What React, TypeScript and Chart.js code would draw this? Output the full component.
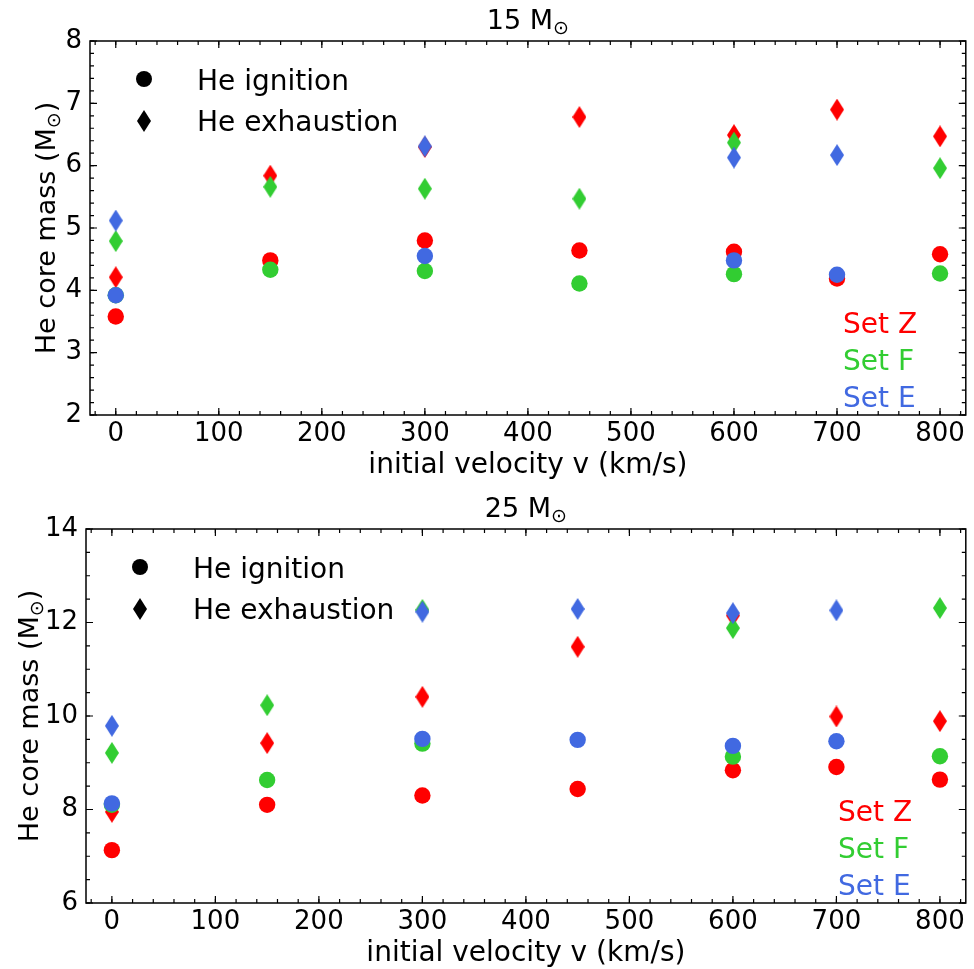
import React, { useEffect, useRef } from 'react';
import { Chart, registerables } from 'chart.js';
Chart.register(...registerables);

const FONT = '"DejaVu Sans", "Liberation Sans", sans-serif';

// x axis: initial velocity (km/s)
const velocities = [0, 150, 300, 450, 600, 700, 800];
const xTickValues = [0, 100, 200, 300, 400, 500, 600, 700, 800];

// 15 Msun panel
const yTicks15 = [2, 3, 4, 5, 6, 7, 8];
const z15Ignition = [3.58, 4.48, 4.8, 4.64, 4.62, 4.19, 4.58];
const z15Exhaustion = [4.21, 5.84, 6.3, 6.78, 6.49, 6.9, 6.47];
const f15Ignition = [3.92, 4.33, 4.31, 4.11, 4.26, null, 4.27];
const f15Exhaustion = [4.79, 5.66, 5.63, 5.47, 6.37, null, 5.96];
const e15Ignition = [3.92, null, 4.55, null, 4.48, 4.25, null];
const e15Exhaustion = [5.12, null, 6.31, null, 6.13, 6.17, null];

// 25 Msun panel
const yTicks25 = [6, 8, 10, 12, 14];
const z25Ignition = [7.13, 8.1, 8.3, 8.44, 8.84, 8.91, 8.64];
const z25Exhaustion = [7.95, 9.42, 10.41, 11.48, 12.15, 9.99, 9.89];
const f25Ignition = [8.1, 8.63, 9.41, null, 9.13, null, 9.14];
const f25Exhaustion = [9.21, 10.23, 12.27, null, 11.88, null, 12.31];
const e25Ignition = [8.13, null, 9.51, 9.49, 9.36, 9.46, null];
const e25Exhaustion = [9.79, null, 12.23, 12.29, 12.2, 12.26, null];

const RED = '#ff0000';
const GREEN = '#32cd32';
const BLUE = '#4169e1';

const setNames = ['Set Z', 'Set F', 'Set E'];
const setColors = [RED, GREEN, BLUE];

function makeDiamond(color: string, w = 14, h = 22) {
  const c = document.createElement('canvas');
  c.width = w;
  c.height = h;
  const g = c.getContext('2d')!;
  g.fillStyle = color;
  g.beginPath();
  g.moveTo(w / 2, 0);
  g.lineTo(w, h / 2);
  g.lineTo(w / 2, h);
  g.lineTo(0, h / 2);
  g.closePath();
  g.fill();
  return c;
}

function toPoints(vals: (number | null)[]) {
  const out: { x: number; y: number }[] = [];
  vals.forEach((v, i) => {
    if (v !== null) out.push({ x: velocities[i], y: v });
  });
  return out;
}

function drawMsunText(
  ctx: CanvasRenderingContext2D,
  pre: string,
  post: string,
  cx: number,
  baseline: number,
  size: number
) {
  const sub = Math.round(size * 0.7);
  ctx.font = `${size}px ${FONT}`;
  const w1 = ctx.measureText(pre).width;
  const w3 = ctx.measureText(post).width;
  ctx.font = `${sub}px ${FONT}`;
  const w2 = ctx.measureText('\u2299').width;
  let x = cx - (w1 + w2 + w3) / 2;
  ctx.textAlign = 'left';
  ctx.textBaseline = 'alphabetic';
  ctx.font = `${size}px ${FONT}`;
  ctx.fillText(pre, x, baseline);
  x += w1;
  ctx.font = `${sub}px ${FONT}`;
  ctx.fillText('\u2299', x, baseline + size * 0.2);
  x += w2;
  ctx.font = `${size}px ${FONT}`;
  if (post) ctx.fillText(post, x, baseline);
}

interface PanelProps {
  title: string;
  yMin: number;
  yMax: number;
  yTicks: number[];
  yMinor: number;
  left: number;
  right: number;
  height: number;
  ylabelX: number;
  legendX: number;
  setX: number;
  series: (number | null)[][];
}

function Panel(p: PanelProps) {
  const ref = useRef<HTMLCanvasElement | null>(null);
  useEffect(() => {
    const canvas = ref.current!;
    const [zI, zE, fI, fE, eI, eE] = p.series;
    const mk = (vals: (number | null)[], color: string, diamond: boolean) => ({
      data: toPoints(vals),
      backgroundColor: color,
      borderWidth: 0,
      pointRadius: 8.2,
      pointStyle: diamond ? makeDiamond(color) : 'circle',
    });
    // first dataset is drawn on top in Chart.js
    const datasets: any[] = [
      mk(eE, BLUE, true),
      mk(eI, BLUE, false),
      mk(fE, GREEN, true),
      mk(fI, GREEN, false),
      mk(zE, RED, true),
      mk(zI, RED, false),
    ];

    const decor = {
      id: 'decor',
      afterDraw(chart: any) {
        const { ctx, chartArea: ca, scales } = chart;
        const xs = scales.x;
        const ys = scales.y;
        ctx.save();
        ctx.strokeStyle = '#000';
        ctx.lineWidth = 1.2;
        const xTick = (v: number, len: number) => {
          const px = xs.getPixelForValue(v);
          ctx.beginPath();
          ctx.moveTo(px, ca.bottom);
          ctx.lineTo(px, ca.bottom - len);
          ctx.moveTo(px, ca.top);
          ctx.lineTo(px, ca.top + len);
          ctx.stroke();
        };
        const yTick = (v: number, len: number) => {
          const py = ys.getPixelForValue(v);
          ctx.beginPath();
          ctx.moveTo(ca.left, py);
          ctx.lineTo(ca.left + len, py);
          ctx.moveTo(ca.right, py);
          ctx.lineTo(ca.right - len, py);
          ctx.stroke();
        };
        for (let v = -20; v <= 820; v += 20) xTick(v, 4);
        xTickValues.forEach((v) => xTick(v, 7));
        const nMinor = Math.round((p.yMax - p.yMin) / p.yMinor);
        for (let i = 0; i <= nMinor; i++) yTick(p.yMin + i * p.yMinor, 4);
        p.yTicks.forEach((v) => yTick(v, 7));

        ctx.lineWidth = 1.5;
        ctx.strokeRect(ca.left, ca.top, ca.right - ca.left, ca.bottom - ca.top);

        ctx.fillStyle = '#000';
        // title
        drawMsunText(ctx, p.title + ' M', '', (ca.left + ca.right) / 2, 29, 27);
        // x label
        ctx.font = `28px ${FONT}`;
        ctx.textAlign = 'center';
        ctx.textBaseline = 'alphabetic';
        ctx.fillText('initial velocity v (km/s)', (ca.left + ca.right) / 2, 473);
        // y label
        ctx.save();
        ctx.translate(p.ylabelX, (ca.top + ca.bottom) / 2);
        ctx.rotate(-Math.PI / 2);
        drawMsunText(ctx, 'He core mass (M', ')', 0, 0, 27);
        ctx.restore();

        // marker legend
        ctx.fillStyle = '#000';
        ctx.beginPath();
        ctx.arc(p.legendX, 79, 8, 0, Math.PI * 2);
        ctx.fill();
        ctx.drawImage(makeDiamond('#000', 14, 22), p.legendX - 7, 121 - 11);
        ctx.font = `28px ${FONT}`;
        ctx.textAlign = 'left';
        ctx.textBaseline = 'alphabetic';
        ctx.fillText('He ignition', p.legendX + 53, 90);
        ctx.fillText('He exhaustion', p.legendX + 53, 131);

        // set labels
        const bases = [333, 370, 407];
        setNames.forEach((n, i) => {
          ctx.fillStyle = setColors[i];
          ctx.fillText(n, p.setX, bases[i]);
        });
        ctx.restore();
      },
    };

    const chart = new Chart(canvas, {
      type: 'scatter',
      data: { datasets },
      plugins: [decor],
      options: {
        animation: false,
        responsive: false,
        events: [],
        layout: { padding: { top: 41, right: 974 - p.right, left: 0, bottom: 0 } },
        plugins: {
          legend: { display: false },
          tooltip: { enabled: false },
          title: { display: false },
        },
        scales: {
          x: {
            type: 'linear',
            min: -25,
            max: 825,
            afterBuildTicks: (s: any) => {
              s.ticks = xTickValues.map((v) => ({ value: v }));
            },
            ticks: {
              font: { family: FONT, size: 26 },
              color: '#000',
              padding: 4,
              maxRotation: 0,
              autoSkip: false,
            },
            grid: { display: false, drawTicks: false },
            border: { display: false },
            afterFit: (s: any) => {
              s.height = p.height - 415;
            },
          },
          y: {
            type: 'linear',
            min: p.yMin,
            max: p.yMax,
            afterBuildTicks: (s: any) => {
              s.ticks = p.yTicks.map((v) => ({ value: v }));
            },
            ticks: {
              font: { family: FONT, size: 26 },
              color: '#000',
              padding: 8,
              autoSkip: false,
            },
            grid: { display: false, drawTicks: false },
            border: { display: false },
            afterFit: (s: any) => {
              s.width = p.left;
            },
          },
        },
      } as any,
    });
    return () => chart.destroy();
  }, []);
  return (
    <canvas
      ref={ref}
      width={974}
      height={p.height}
      style={{ display: 'block', width: 974, height: p.height }}
    />
  );
}

export default function App() {
  return (
    <div style={{ position: 'absolute', left: 0, top: 0, width: 974, height: 969, background: '#fff' }}>
      <Panel
        title="15"
        yMin={2}
        yMax={8}
        yTicks={yTicks15}
        yMinor={0.2}
        left={90}
        right={972}
        height={488}
        ylabelX={55}
        legendX={144}
        setX={843}
        series={[z15Ignition, z15Exhaustion, f15Ignition, f15Exhaustion, e15Ignition, e15Exhaustion]}
      />
      <Panel
        title="25"
        yMin={6}
        yMax={14}
        yTicks={yTicks25}
        yMinor={0.5}
        left={86}
        right={969}
        height={481}
        ylabelX={38}
        legendX={140}
        setX={838}
        series={[z25Ignition, z25Exhaustion, f25Ignition, f25Exhaustion, e25Ignition, e25Exhaustion]}
      />
    </div>
  );
}
